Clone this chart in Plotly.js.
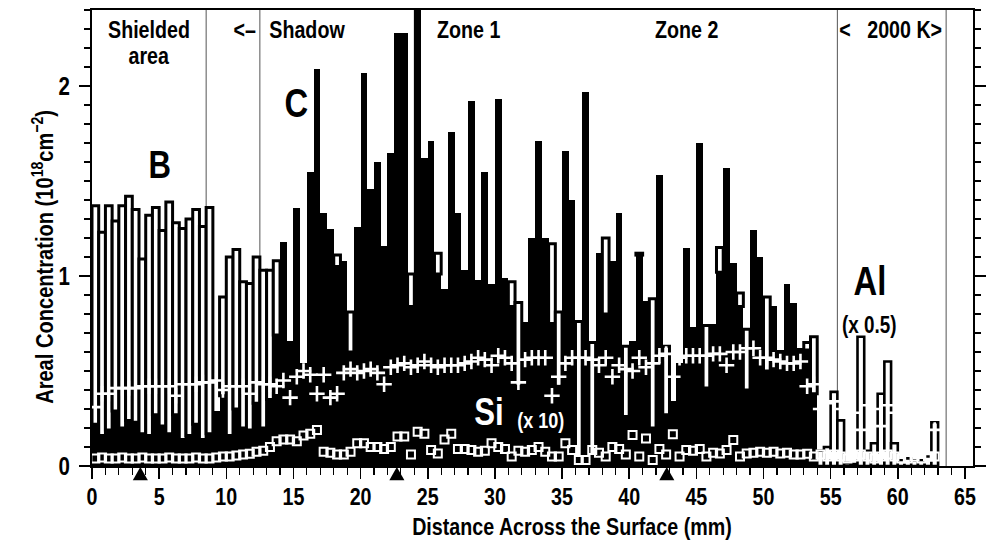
<!DOCTYPE html>
<html><head><meta charset="utf-8">
<script src="https://cdn.plot.ly/plotly-3.0.1.min.js"></script>
<style>html,body{margin:0;padding:0;background:#fff}#chart{width:986px;height:540px}</style>
</head><body><div id="chart"></div>
<script>
// Bin centres (mm), 0.5 mm steps
const positions = [
 0.25,0.75,1.25,1.75,2.25,2.75,3.25,3.75,4.25,4.75,5.25,5.75,6.25,6.75,7.25,7.75,8.25,8.75,9.25,9.75,
 10.25,10.75,11.25,11.75,12.25,12.75,13.25,13.75,14.25,14.75,15.25,15.75,16.25,16.75,17.25,17.75,18.25,18.75,19.25,19.75,
 20.25,20.75,21.25,21.75,22.25,22.75,23.25,23.75,24.25,24.75,25.25,25.75,26.25,26.75,27.25,27.75,28.25,28.75,29.25,29.75,
 30.25,30.75,31.25,31.75,32.25,32.75,33.25,33.75,34.25,34.75,35.25,35.75,36.25,36.75,37.25,37.75,38.25,38.75,39.25,39.75,
 40.25,40.75,41.25,41.75,42.25,42.75,43.25,43.75,44.25,44.75,45.25,45.75,46.25,46.75,47.25,47.75,48.25,48.75,49.25,49.75,
 50.25,50.75,51.25,51.75,52.25,52.75,53.25,53.75,54.25,54.75,55.25,55.75,56.25,56.75,57.25,57.75,58.25,58.75,59.25,59.75,
 60.25,60.75,61.25,61.75,62.25,62.75];

// C areal concentration (10^18 cm^-2), 0 - 54 mm
const carbon = [
 0.22,0.16,0.19,0.29,0.20,0.24,0.23,0.17,0.16,0.27,
 0.21,0.17,0.27,0.14,0.16,0.22,0.14,0.17,0.29,0.37,
 0.16,0.30,0.20,0.19,0.33,0.20,0.35,0.69,1.18,0.66,
 1.36,0.54,1.55,2.09,1.33,1.25,1.05,1.08,0.60,1.26,
 2.07,1.46,1.60,1.16,1.65,2.28,2.28,0.84,2.40,1.62,
 1.71,1.01,0.93,1.76,1.33,1.03,1.92,0.98,1.55,0.96,
 1.93,0.99,0.84,0.42,0.76,1.20,1.71,1.20,0.75,0.42,
 1.66,1.40,0.05,1.97,0.05,1.12,0.80,1.08,1.33,0.26,
 0.66,1.11,0.87,0.20,1.53,0.27,0.34,0.54,1.15,0.73,
 1.70,0.41,0.75,1.02,1.57,1.07,0.84,0.40,1.24,1.10,
 0.50,0.84,0.61,0.96,0.86,0.62,0.61,0.38];

// B areal concentration, 0 - 54 mm
const boron = [
 1.37,1.23,1.37,1.29,1.37,1.42,1.35,1.09,1.32,1.36,
 1.24,1.39,1.28,1.25,1.30,1.35,1.26,1.36,0.28,0.89,
 1.10,1.14,0.97,0.96,1.10,1.03,1.03,1.08,0.95,0.62,
 0.90,0.45,0.98,0.85,0.88,0.92,1.11,0.80,0.81,0.85,
 0.90,0.88,0.95,0.90,0.86,0.92,0.95,1.01,0.90,0.96,
 0.88,1.12,0.80,0.92,0.85,0.90,0.88,0.85,0.92,0.80,
 0.86,0.90,0.97,0.86,0.70,0.85,0.92,0.88,1.17,0.81,
 0.90,0.86,0.76,0.90,0.65,0.88,1.20,0.92,0.95,0.63,
 0.60,1.12,0.80,0.88,0.90,0.63,0.30,0.50,0.85,0.70,
 0.92,0.74,0.70,1.15,0.90,0.88,0.91,0.72,0.92,0.90,
 0.89,0.78,0.58,0.85,0.80,0.60,0.65,0.68];

// "+" series, 0 - 63 mm
const plusSeries = [
 0.31,0.38,0.38,0.41,0.41,0.41,0.41,0.42,0.42,0.42,
 0.42,0.42,0.37,0.43,0.43,0.43,0.44,0.44,0.45,0.40,
 0.42,0.42,0.42,0.38,0.44,0.43,0.43,0.42,0.45,0.36,
 0.47,0.50,0.48,0.38,0.48,0.36,0.38,0.49,0.51,0.49,
 0.50,0.51,0.49,0.43,0.52,0.53,0.54,0.52,0.53,0.55,
 0.53,0.52,0.53,0.53,0.53,0.54,0.55,0.57,0.56,0.53,
 0.58,0.57,0.54,0.44,0.56,0.57,0.57,0.57,0.37,0.47,
 0.54,0.57,0.57,0.57,0.56,0.53,0.57,0.47,0.53,0.51,
 0.50,0.57,0.52,0.54,0.58,0.59,0.47,0.57,0.58,0.58,
 0.58,0.58,0.59,0.59,0.53,0.60,0.60,0.62,0.62,0.57,
 0.57,0.56,0.55,0.54,0.54,0.55,0.42,0.43,0.30,0.33,
 0.34,0.30,0.26,0.28,0.19,0.32,0.30,0.21,0.32,0.28,
 0.25,0.22,0.24,0.22,0.25,0.19];

// Si (x 10), 0 - 63 mm
const silicon = [
 0.040,0.045,0.040,0.040,0.045,0.040,0.040,0.045,0.040,0.040,
 0.040,0.045,0.040,0.040,0.040,0.045,0.040,0.040,0.045,0.050,
 0.050,0.055,0.060,0.065,0.075,0.080,0.100,0.130,0.140,0.140,
 0.130,0.160,0.170,0.190,0.075,0.070,0.060,0.060,0.075,0.120,
 0.120,0.100,0.100,0.090,0.100,0.155,0.155,0.060,0.180,0.170,
 0.084,0.066,0.140,0.170,0.090,0.090,0.084,0.075,0.080,0.120,
 0.100,0.090,0.050,0.080,0.075,0.084,0.100,0.075,0.050,0.050,
 0.120,0.084,0.032,0.032,0.084,0.070,0.050,0.100,0.090,0.060,
 0.163,0.050,0.145,0.032,0.090,0.060,0.167,0.050,0.084,0.080,
 0.090,0.050,0.070,0.066,0.084,0.137,0.050,0.066,0.070,0.075,
 0.070,0.075,0.066,0.070,0.060,0.060,0.065,0.050,0.060,0.050,
 0.060,0.050,0.040,0.050,0.060,0.050,0.040,0.050,0.060,0.050,
 0.040,0.040,0.050,0.040,0.050,0.050];

// Al (x 0.5), 54 - 63 mm
const aluminium = [0.08,0.10,0.39,0.24,0.015,0.01,0.68,0.08,0.12,0.38,0.55,0.12,0.03,0.04,0.03,0.03,0.05,0.23];

const arrowPositions = [3.6, 22.7, 42.8];
const zoneBoundaries = [8.5, 12.5, 24.0, 55.5, 63.6];

const FONT = "'Liberation Sans', Arial, sans-serif";
const CONDENSE = 0.82;

const cX = positions.slice(0, carbon.length);
const alX = positions.slice(carbon.length, carbon.length + aluminium.length);
const bTop = boron.map((b, i) => b > carbon[i] ? b - carbon[i] : null);

const traces = [
  {type: 'bar', x: cX, y: carbon, width: 0.5, marker: {color: '#000', line: {width: 0}}, hoverinfo: 'skip'},
  {type: 'bar', x: cX, y: bTop, base: carbon, width: 0.5,
   marker: {color: '#fff', line: {color: '#000', width: 3}}, hoverinfo: 'skip'},
  {type: 'bar', x: alX, y: aluminium, width: 0.5,
   marker: {color: '#fff', line: {color: '#000', width: 2.6}}, hoverinfo: 'skip'},
  {type: 'scatter', mode: 'markers', x: positions, y: plusSeries,
   marker: {symbol: 'cross-thin', size: 11, color: '#fff', line: {color: '#fff', width: 2.6}}, hoverinfo: 'skip'},
  {type: 'scatter', mode: 'markers', x: positions, y: silicon,
   marker: {symbol: 'square-open', size: 8, color: '#fff', line: {color: '#fff', width: 2}}, hoverinfo: 'skip'}
];

const shapes = zoneBoundaries.map(b => ({
  type: 'line', xref: 'x', yref: 'y', x0: b, x1: b, y0: 0, y1: 2.4, layer: 'below',
  line: {color: '#555', width: 1}
})).concat(arrowPositions.map(p => ({
  type: 'path', xref: 'x', yref: 'paper', layer: 'above',
  path: `M ${p - 0.56},-0.031 L ${p + 0.56},-0.031 L ${p},-0.002 Z`,
  fillcolor: '#000', line: {width: 0}
})));

function lbl(text, x, y, size, color) {
  return {text: text, x: x, y: y, xref: 'x', yref: 'y', showarrow: false,
    xanchor: 'center', yanchor: 'middle',
    font: {family: FONT, size: size, color: color || '#000', weight: 700}};
}

const annotations = [
  lbl('Shielded', 4.24, 2.300, 24),
  lbl('area', 4.21, 2.160, 24),
  lbl('&lt;–', 11.39, 2.295, 24),
  lbl('Shadow', 16.01, 2.295, 24),
  lbl('Zone 1', 28.0, 2.295, 24),
  lbl('Zone 2', 44.23, 2.295, 24),
  lbl('&lt;\u00a0\u00a0 2000 K&gt;', 59.49, 2.295, 24),
  lbl('B', 5.0, 1.584, 38),
  lbl('C', 15.23, 1.908, 40),
  lbl('Si', 29.56, 0.284, 38, '#fff'),
  lbl('(x 10)', 33.43, 0.237, 22, '#fff'),
  lbl('Al', 57.93, 0.974, 40),
  lbl('(x 0.5)', 57.86, 0.742, 23),
  {text: 'Areal Concentration (10<sup>18</sup>cm<sup>−2</sup>)', xref: 'paper', yref: 'paper',
   x: -0.0568, y: 0.46, textangle: -90, showarrow: false, xanchor: 'center', yanchor: 'middle',
   font: {family: FONT, size: 24.5, color: '#000', weight: 700}},
  {text: 'Distance Across the Surface (mm)', xref: 'paper', yref: 'paper',
   x: 0.5448, y: -0.1316, showarrow: false, xanchor: 'center', yanchor: 'middle',
   font: {family: FONT, size: 24, color: '#000', weight: 700}}
];

const layout = {
  width: 986, height: 540,
  margin: {l: 92, r: 13, t: 10, b: 74},
  paper_bgcolor: '#fff', plot_bgcolor: '#fff',
  showlegend: false, barmode: 'overlay', bargap: 0,
  font: {family: FONT, color: '#000'},
  xaxis: {
    range: [0, 65.6], tick0: 0, dtick: 5, ticks: 'outside', ticklen: 11, tickwidth: 1.5, tickcolor: '#000',
    showline: true, linecolor: '#000', linewidth: 2, mirror: true, showgrid: false, zeroline: false,
    minor: {dtick: 1, ticks: 'outside', ticklen: 7, tickwidth: 1.2, tickcolor: '#000', showgrid: false},
    tickfont: {family: FONT, size: 24, color: '#000', weight: 700}, ticklabelstandoff: -3
  },
  yaxis: {
    range: [0, 2.4], tick0: 0, dtick: 1, ticks: 'outside', ticklen: 11, tickwidth: 1.5, tickcolor: '#000',
    showline: true, linecolor: '#000', linewidth: 2, mirror: 'ticks', showgrid: false, zeroline: false,
    minor: {dtick: 0.1, ticks: 'outside', ticklen: 6, tickwidth: 1.2, tickcolor: '#000', showgrid: false},
    tickfont: {family: FONT, size: 25, color: '#000', weight: 700}, ticklabelstandoff: 4
  },
  shapes: shapes,
  annotations: annotations
};

// Narrow the bold face horizontally, like the condensed typeface of the original figure
function condenseText(gd) {
  gd.querySelectorAll('svg text').forEach(t => {
    if (t.getAttribute('data-condensed')) return;
    const x = parseFloat(t.getAttribute('x')) || 0;
    const y = parseFloat(t.getAttribute('y')) || 0;
    const tr = t.getAttribute('transform') || '';
    t.setAttribute('transform', `${tr} translate(${x},${y}) scale(${CONDENSE},1) translate(${-x},${-y})`);
    t.setAttribute('data-condensed', '1');
  });
}

Plotly.newPlot('chart', traces, layout, {staticPlot: true, displayModeBar: false})
  .then(gd => condenseText(gd));
</script></body></html>
